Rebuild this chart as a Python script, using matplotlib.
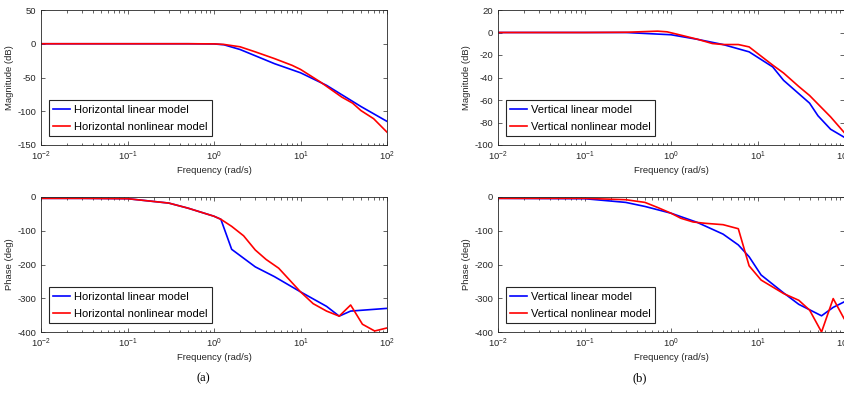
import numpy as np
import matplotlib
matplotlib.use("Agg")
import matplotlib.pyplot as plt
from matplotlib.ticker import LogLocator, NullFormatter
from matplotlib import font_manager

plt.rcParams['font.family'] = ['Liberation Sans', 'DejaVu Sans']
plt.rcParams['mathtext.fontset'] = 'custom'
plt.rcParams['mathtext.rm'] = 'Liberation Sans'
plt.rcParams['axes.unicode_minus'] = False

# ---- Horizontal model: magnitude (dB) ----
h_mag_lin_w = [0.01, 0.1, 0.5, 1.0, 1.3, 2.0, 5.0, 10.0, 20.0, 50.0, 100.0]
h_mag_lin = [0, 0, 0, -0.3, -1.5, -8.5, -29.5, -43, -61.6, -93, -115]
h_mag_non_w = [0.01, 0.1, 0.5, 1.0, 1.3, 2.0, 3.0, 5.0, 8.0, 10.0, 17.0, 30.0, 40.0, 50.0, 70.0, 100.0]
h_mag_non = [0, 0, 0, -0.2, -1.0, -4.5, -12, -22, -32, -38, -56.7, -79, -88, -99, -111, -131]

# ---- Horizontal model: phase (deg) ----
h_ph_lin_w = [0.01, 0.03, 0.1, 0.3, 0.5, 1.0, 1.2, 1.6, 3.0, 5.0, 10.0, 20.0, 28.0, 38.0, 100.0]
h_ph_lin = [-4, -4, -5, -18, -33, -57, -66, -155, -207, -236, -281, -324, -353, -338, -330]
h_ph_non_w = [0.01, 0.03, 0.1, 0.3, 0.5, 1.0, 1.2, 1.6, 2.2, 3.0, 4.0, 5.6, 10.0, 14.0, 20.0, 28.0, 38.0, 52.0, 72.0, 100.0]
h_ph_non = [-4, -4, -5, -18, -33, -57, -66, -87, -115, -157, -185, -211, -281, -316, -338, -353, -320, -377, -397, -388]

# ---- Vertical model: magnitude (dB) ----
v_mag_lin_w = [0.01, 0.1, 0.3, 1.0, 2.0, 4.0, 8.0, 15.0, 20.0, 40.0, 50.0, 70.0, 100.0]
v_mag_lin = [0, 0, 0, -2, -6, -10.7, -17.2, -30.6, -42.5, -62.8, -74, -86, -93]
v_mag_non_w = [0.01, 0.1, 0.3, 0.7, 0.9, 1.2, 2.0, 3.0, 4.0, 6.0, 8.0, 15.0, 20.0, 30.0, 40.0, 70.0, 100.0]
v_mag_non = [0, 0, 0.2, 1.2, 0.6, -1.7, -5.9, -9.8, -10.7, -10.7, -12.8, -29, -36, -48, -56, -75, -88.7]

# ---- Vertical model: phase (deg) ----
v_ph_lin_w = [0.01, 0.1, 0.3, 0.5, 1.0, 2.0, 4.0, 6.0, 8.0, 11.0, 20.0, 30.0, 55.0, 75.0, 100.0]
v_ph_lin = [-4, -5, -16, -28, -48, -75, -110, -142, -177, -231, -284, -318, -352, -327, -311]
v_ph_non_w = [0.01, 0.1, 0.3, 0.5, 0.7, 1.0, 1.3, 1.8, 2.5, 4.0, 6.0, 8.0, 11.0, 20.0, 30.0, 40.0, 55.0, 75.0, 100.0]
v_ph_non = [-4, -4, -8, -16, -31, -48, -63, -74, -78, -82, -94, -204, -246, -286, -306, -335, -400, -301, -360]

W, H = 844, 401
fig = plt.figure(figsize=(W / 100, H / 100), dpi=100)

installed = {f.name for f in font_manager.fontManager.ttflist}
legend_family = ['Liberation Sans Narrow', 'Liberation Sans'] if 'Liberation Sans Narrow' in installed \
    else ['Liberation Sans']
legend_size = 9 if 'Liberation Sans Narrow' in installed else 8


def px_axes(x0, y0, x1, y1):
    return fig.add_axes([x0 / W, 1 - y1 / H, (x1 - x0) / W, (y1 - y0) / H])


def style(ax, ylim, yticks, ylabel, legend_labels):
    ax.set_xscale('log')
    ax.set_xlim(1e-2, 1e2)
    ax.set_ylim(*ylim)
    ax.set_yticks(yticks)
    ax.xaxis.set_major_locator(LogLocator(base=10, numticks=10))
    ax.xaxis.set_minor_locator(LogLocator(base=10, subs=np.arange(2, 10), numticks=20))
    ax.xaxis.set_minor_formatter(NullFormatter())
    ax.tick_params(which='both', direction='in', top=True, right=True,
                   labelsize=6.8, colors='#262626', width=0.5)
    ax.tick_params(which='major', length=3)
    ax.tick_params(which='minor', length=1.8)
    for s in ax.spines.values():
        s.set_linewidth(0.6)
        s.set_color('#262626')
    ax.set_xlabel('Frequency (rad/s)', fontsize=6.8, color='#262626', labelpad=2)
    ax.set_ylabel(ylabel, fontsize=6.8, color='#262626', labelpad=2)
    leg = ax.legend(legend_labels, loc='lower left', frameon=True,
                    prop={'family': legend_family, 'size': legend_size},
                    fancybox=False, edgecolor='#262626', framealpha=1,
                    borderpad=0.4, labelspacing=0.6, handlelength=1.5,
                    handletextpad=0.35, borderaxespad=0.0,
                    bbox_to_anchor=(8 / 346, 9 / 135))
    leg.get_frame().set_linewidth(0.8)


lw = 1.2
blue, red = '#0000ff', '#ff0000'

ax1 = px_axes(41, 10, 387, 145)
ax1.plot(h_mag_lin_w, h_mag_lin, color=blue, lw=lw)
ax1.plot(h_mag_non_w, h_mag_non, color=red, lw=lw)
style(ax1, (-150, 50), [-150, -100, -50, 0, 50], 'Magnitude (dB)',
      ['Horizontal linear model', 'Horizontal nonlinear model'])

ax2 = px_axes(41, 197, 387, 332)
ax2.plot(h_ph_lin_w, h_ph_lin, color=blue, lw=lw)
ax2.plot(h_ph_non_w, h_ph_non, color=red, lw=lw)
style(ax2, (-400, 0), [-400, -300, -200, -100, 0], 'Phase (deg)',
      ['Horizontal linear model', 'Horizontal nonlinear model'])

ax3 = px_axes(498, 10, 844, 145)
ax3.plot(v_mag_lin_w, v_mag_lin, color=blue, lw=lw)
ax3.plot(v_mag_non_w, v_mag_non, color=red, lw=lw)
style(ax3, (-100, 20), [-100, -80, -60, -40, -20, 0, 20], 'Magnitude (dB)',
      ['Vertical linear model', 'Vertical nonlinear model'])

ax4 = px_axes(498, 197, 844, 332)
ax4.plot(v_ph_lin_w, v_ph_lin, color=blue, lw=lw)
ax4.plot(v_ph_non_w, v_ph_non, color=red, lw=lw)
style(ax4, (-400, 0), [-400, -300, -200, -100, 0], 'Phase (deg)',
      ['Vertical linear model', 'Vertical nonlinear model'])

fig.text(203 / W, 1 - 378 / H, '(a)', fontsize=9, family='Liberation Serif',
         ha='center', va='center')
fig.text(640 / W, 1 - 378 / H, '(b)', fontsize=9, family='Liberation Serif',
         ha='center', va='center')

fig.savefig('out.png', dpi=100)
